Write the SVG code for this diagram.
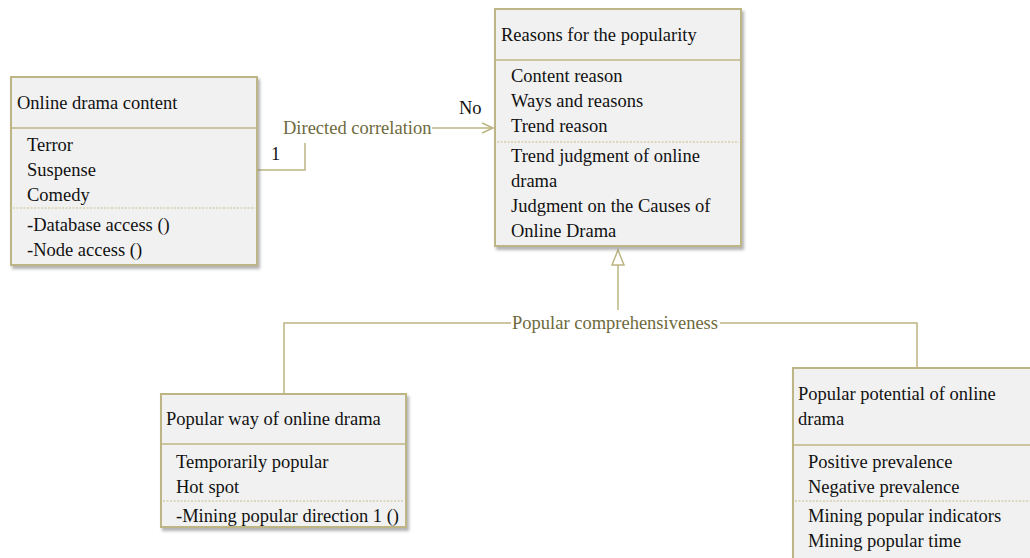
<svg xmlns="http://www.w3.org/2000/svg" width="1030" height="558" viewBox="0 0 1030 558">
<style>
.box{fill:#f1f1f1;stroke:#bdb583;stroke-width:2;filter:url(#sh)}
.div{stroke:#bdb583;stroke-width:1.5}
.dash{stroke:#c9c08a;stroke-width:1;stroke-dasharray:2,1.5}
text{font-family:"Liberation Serif",serif;font-size:18.5px}
.t{fill:#111}
.lbl{fill:#6e6a3c}
.con{fill:none;stroke:#bdb583;stroke-width:1.5}
</style>
<defs>
<filter id="sh" x="-5%" y="-5%" width="115%" height="115%">
<feDropShadow dx="2" dy="3" stdDeviation="1.5" flood-color="#555" flood-opacity="0.45"/>
</filter>
<marker id="open" markerWidth="14" markerHeight="12" refX="12" refY="6" orient="auto" markerUnits="userSpaceOnUse">
<path d="M1,1 L12,6 L1,11" fill="none" stroke="#bdb583" stroke-width="1.5"/>
</marker>
</defs>
<rect width="1030" height="558" fill="#fff"/>

<g id="connectors">
<path class="con" d="M257,170 H305 V143 M432,128 H493" marker-end="url(#open)"/>
<text class="lbl" x="283" y="134" font-family="Liberation Serif" font-size="18.5">Directed correlation</text>
<text class="t" x="459" y="114" font-family="Liberation Serif" font-size="18.5">No</text>
<text class="t" x="271" y="160" font-family="Liberation Serif" font-size="18.5">1</text>
<path class="con" d="M618,310 V265"/>
<polygon points="618,250 624,265 612,265" fill="#fff" stroke="#bdb583" stroke-width="1.5"/>
<path class="con" d="M284,393 V323 H511 M720,323 H917 V368"/>
<text class="lbl" x="512" y="329" font-family="Liberation Serif" font-size="18.5">Popular comprehensiveness</text>
</g>

<g id="node-content" class="t">
<rect class="box" x="11" y="77" width="246" height="188"/>
<line class="div" x1="11" y1="128" x2="257" y2="128"/>
<line class="dash" x1="13" y1="208" x2="255" y2="208"/>
<text x="17" y="109" font-family="Liberation Serif" font-size="18.5">Online drama content</text>
<text x="27" y="151" font-family="Liberation Serif" font-size="18.5">Terror</text>
<text x="27" y="176" font-family="Liberation Serif" font-size="18.5">Suspense</text>
<text x="27" y="201" font-family="Liberation Serif" font-size="18.5">Comedy</text>
<text x="27" y="231" font-family="Liberation Serif" font-size="18.5">-Database access ()</text>
<text x="27" y="256" font-family="Liberation Serif" font-size="18.5">-Node access ()</text>
</g>

<g id="node-reasons" class="t">
<rect class="box" x="495" y="9" width="246" height="237"/>
<line class="div" x1="495" y1="60" x2="741" y2="60"/>
<line class="dash" x1="497" y1="142" x2="739" y2="142"/>
<text x="501" y="41" font-family="Liberation Serif" font-size="18.5">Reasons for the popularity</text>
<text x="511" y="82" font-family="Liberation Serif" font-size="18.5">Content reason</text>
<text x="511" y="107" font-family="Liberation Serif" font-size="18.5">Ways and reasons</text>
<text x="511" y="132" font-family="Liberation Serif" font-size="18.5">Trend reason</text>
<text x="511" y="162" font-family="Liberation Serif" font-size="18.5">Trend judgment of online</text>
<text x="511" y="187" font-family="Liberation Serif" font-size="18.5">drama</text>
<text x="511" y="212" font-family="Liberation Serif" font-size="18.5">Judgment on the Causes of</text>
<text x="511" y="237" font-family="Liberation Serif" font-size="18.5">Online Drama</text>
</g>

<g id="node-way" class="t">
<rect class="box" x="161" y="394" width="245" height="133"/>
<line class="div" x1="161" y1="444" x2="406" y2="444"/>
<line class="dash" x1="163" y1="501" x2="404" y2="501"/>
<text x="166" y="425" font-family="Liberation Serif" font-size="18.5">Popular way of online drama</text>
<text x="176" y="468" font-family="Liberation Serif" font-size="18.5">Temporarily popular</text>
<text x="176" y="493" font-family="Liberation Serif" font-size="18.5">Hot spot</text>
<text x="176" y="522" font-family="Liberation Serif" font-size="18.5">-Mining popular direction 1 ()</text>
</g>

<g id="node-potential" class="t">
<rect class="box" x="793" y="368" width="250" height="200"/>
<line class="div" x1="793" y1="445" x2="1030" y2="445"/>
<line class="dash" x1="795" y1="501" x2="1030" y2="501"/>
<text x="798" y="400" font-family="Liberation Serif" font-size="18.5">Popular potential of online</text>
<text x="798" y="425" font-family="Liberation Serif" font-size="18.5">drama</text>
<text x="808" y="468" font-family="Liberation Serif" font-size="18.5">Positive prevalence</text>
<text x="808" y="493" font-family="Liberation Serif" font-size="18.5">Negative prevalence</text>
<text x="808" y="522" font-family="Liberation Serif" font-size="18.5">Mining popular indicators</text>
<text x="808" y="547" font-family="Liberation Serif" font-size="18.5">Mining popular time</text>
</g>
</svg>
